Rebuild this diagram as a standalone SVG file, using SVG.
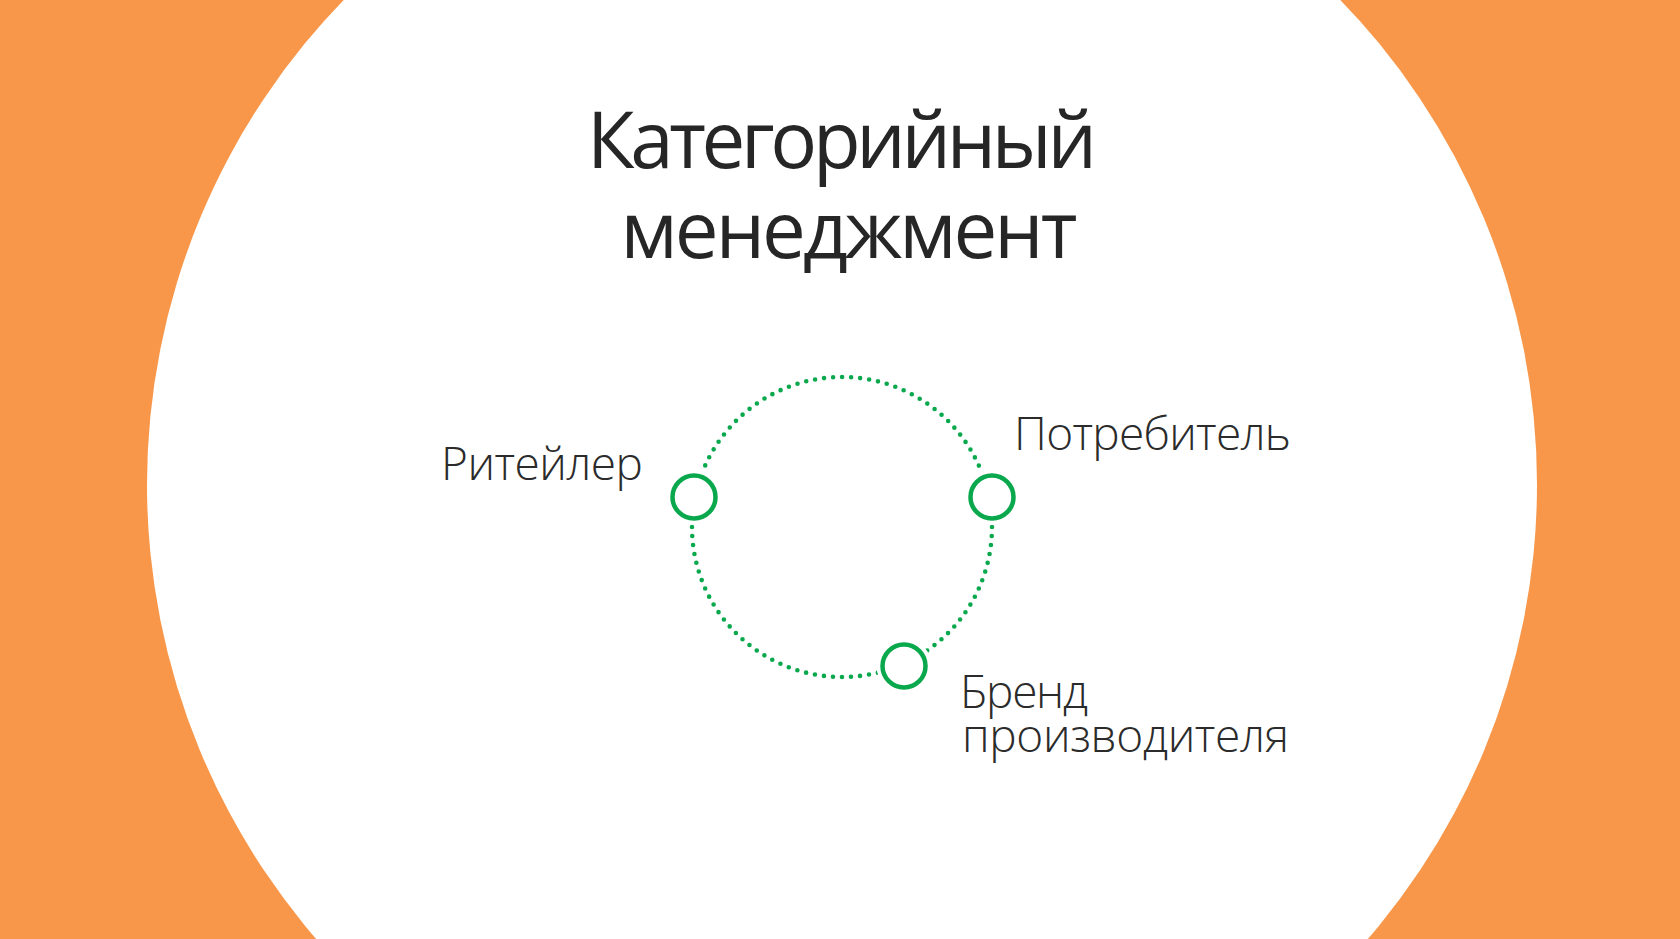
<svg xmlns="http://www.w3.org/2000/svg" width="1680" height="939" viewBox="0 0 1680 939">
<style>
.title{font-family:"Open Sans","Noto Sans","Liberation Sans",sans-serif;font-size:78px;fill:#262626;text-anchor:middle}
.lbl{font-family:"Open Sans","Noto Sans","Liberation Sans",sans-serif;font-weight:300;font-size:46px;fill:#2b2b2b}
.halo{fill:#ffffff;stroke:#ffffff;stroke-width:12}
.node{fill:#ffffff;stroke:#0aa84d;stroke-width:4.5}
.ring{fill:none;stroke:#0aa84d;stroke-width:4.6;stroke-linecap:round;stroke-dasharray:0 9.06}
</style>
<rect x="0" y="0" width="1680" height="939" fill="#f8974a"/>
<circle cx="842" cy="484.5" r="695" fill="#ffffff"/>
<g id="title">
<text class="title" x="842" y="168" textLength="510">Категорийный</text>
<text class="title" x="849" y="258" textLength="457">менеджмент</text>
</g>
<g id="connectors">
<circle class="ring" cx="842" cy="527" r="150"/>
</g>
<g id="retailer">
<circle class="halo" cx="694" cy="497" r="21.5"/>
<circle class="node" cx="694" cy="497" r="21.5"/>
<text class="lbl" x="441" y="480" textLength="202">Ритейлер</text>
</g>
<g id="consumer">
<circle class="halo" cx="992" cy="497" r="21.5"/>
<circle class="node" cx="992" cy="497" r="21.5"/>
<text class="lbl" x="1014" y="450" textLength="277">Потребитель</text>
</g>
<g id="brand">
<circle class="halo" cx="904" cy="666" r="21.5"/>
<circle class="node" cx="904" cy="666" r="21.5"/>
<text class="lbl" x="960" y="708" textLength="128">Бренд</text>
<text class="lbl" x="962" y="752" textLength="327">производителя</text>
</g>
</svg>
